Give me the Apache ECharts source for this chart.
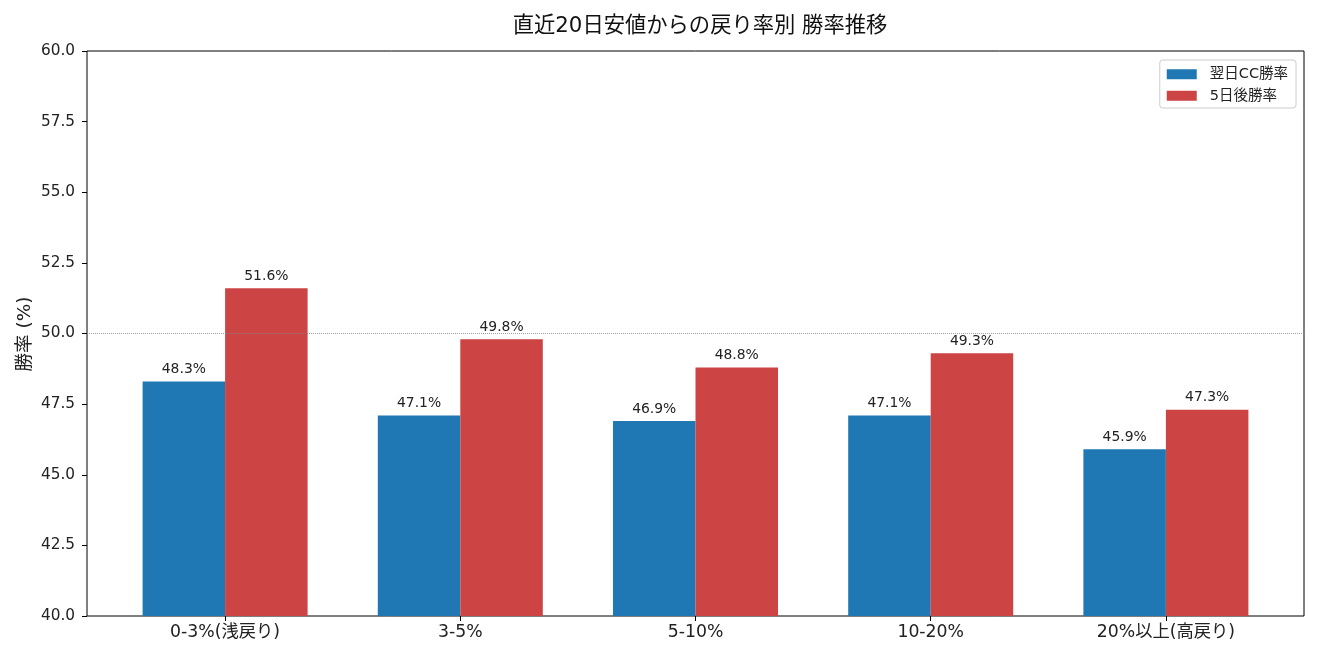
<!DOCTYPE html>
<html>
<head>
<meta charset="utf-8">
<script src="https://cdn.jsdelivr.net/npm/echarts@6/dist/echarts.min.js"></script>
<style>
html,body{margin:0;padding:0;background:#fff;}
#main{width:1320px;height:660px;}
</style>
</head>
<body>
<div id="main"></div>
<script>
var categories = ['0-3%(浅戻り)', '3-5%', '5-10%', '10-20%', '20%以上(高戻り)'];
var nextDayWin = [48.3, 47.1, 46.9, 47.1, 45.9];
var fiveDayWin = [51.6, 49.8, 48.8, 49.3, 47.3];
var seriesNames = ['翌日CC勝率', '5日後勝率'];
var colors = ['#1f77b4', '#cc4444'];
var font = '"DejaVu Sans", "Noto Sans CJK JP", sans-serif';

var labelOpt = {
    show: true,
    position: 'top',
    distance: 5,
    color: '#222',
    fontSize: 13.9,
    fontFamily: font,
    formatter: function (p) { return p.value.toFixed(1) + '%'; }
};

var option = {
    animation: false,
    textStyle: { fontFamily: font },
    title: {
        text: '直近20日安値からの戻り率別 勝率推移',
        left: 695,
        top: 11,
        textAlign: 'center',
        textStyle: { fontSize: 21.3, fontWeight: 'normal', color: '#111', fontFamily: font }
    },
    // y axis title, placed by hand so it sits where matplotlib puts it
    graphic: [{
        type: 'text',
        x: 25,
        y: 334,
        rotation: Math.PI / 2,
        style: {
            text: '勝率 (%)',
            fill: '#222',
            font: '18.5px ' + font,
            textAlign: 'center',
            textVerticalAlign: 'middle'
        }
    }],
    legend: {
        data: seriesNames,
        orient: 'vertical',
        right: 24,
        top: 60,
        icon: 'rect',
        itemWidth: 30,
        itemHeight: 10,
        itemGap: 7,
        padding: [7, 8, 5, 7],
        borderColor: '#ccc',
        borderWidth: 1,
        borderRadius: 3,
        textStyle: { fontSize: 14.5, color: '#222', fontFamily: font, padding: [0, 0, 0, 8] }
    },
    grid: [
        // frame and y axis
        { left: 87, right: 16, top: 51, bottom: 44, show: true, borderColor: '#000', borderWidth: 1, backgroundColor: 'transparent' },
        // bars, with matplotlib-like side margins
        { left: 107.5, right: 36.5, top: 51, bottom: 44 }
    ],
    xAxis: [
        { type: 'category', gridIndex: 0, show: false, data: categories, boundaryGap: false },
        {
            type: 'category', gridIndex: 1, data: categories,
            axisLine: { show: false },
            axisTick: { show: true, alignWithLabel: true, length: 5, lineStyle: { color: '#000' } },
            axisLabel: { color: '#222', fontSize: 17.3, margin: 8, fontFamily: font }
        }
    ],
    yAxis: [
        {
            type: 'value', gridIndex: 0, min: 40, max: 60, interval: 2.5,
            axisLine: { show: false },
            axisTick: { show: true, length: 5, lineStyle: { color: '#000' } },
            axisLabel: { color: '#222', fontSize: 15.3, margin: 12, fontFamily: font, formatter: function (v) { return v.toFixed(1); } },
            splitLine: { show: false }
        },
        { type: 'value', gridIndex: 1, min: 40, max: 60, show: false, splitLine: { show: false } }
    ],
    series: [
        {
            // reference line at 50% across the whole frame
            type: 'line', xAxisIndex: 0, yAxisIndex: 0,
            data: [], silent: true,
            markLine: {
                silent: true, symbol: 'none', label: { show: false },
                lineStyle: { color: '#888', type: [1, 1], width: 0.8 },
                data: [{ yAxis: 50 }]
            }
        },
        {
            name: seriesNames[0], type: 'bar', xAxisIndex: 1, yAxisIndex: 1,
            data: nextDayWin, barWidth: 82.5, barGap: '0%',
            itemStyle: { color: colors[0] },
            label: labelOpt
        },
        {
            name: seriesNames[1], type: 'bar', xAxisIndex: 1, yAxisIndex: 1,
            data: fiveDayWin, barWidth: 82.5, barGap: '0%',
            itemStyle: { color: colors[1] },
            label: labelOpt
        }
    ]
};

var chart = echarts.init(document.getElementById('main'));
chart.setOption(option);
</script>
</body>
</html>
